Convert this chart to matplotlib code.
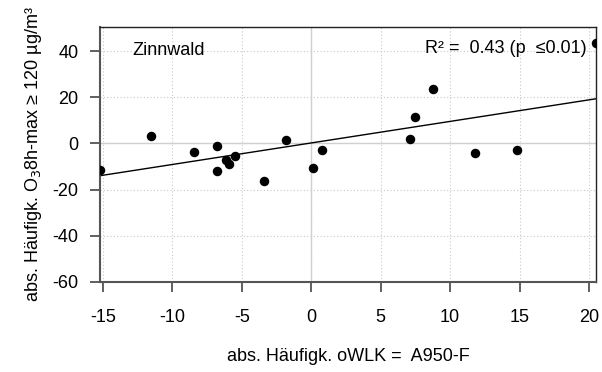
import matplotlib
matplotlib.use("Agg")
import matplotlib.pyplot as plt

plt.rcParams["font.family"] = ["Liberation Sans", "DejaVu Sans"]
plt.rcParams["axes.unicode_minus"] = False

# values
owlk_a950f = [-15.2, -11.5, -8.4, -6.8, -6.8, -6.1, -5.9, -5.5, -3.4, -1.8,
              0.1, 0.8, 7.1, 7.5, 8.8, 11.8, 14.8, 20.5]
o3_exceed = [-11.4, 3.0, -3.8, -1.2, -12.0, -7.3, -8.8, -5.3, -16.1, 1.6,
             -10.5, -3.0, 2.0, 11.4, 23.6, -4.0, -3.0, 43.3]
fit_slope = 0.933
fit_intercept = 0.2
x_ticks = [-15, -10, -5, 0, 5, 10, 15, 20]
y_ticks = [-60, -40, -20, 0, 20, 40]
station = "Zinnwald"
r2_text = "R² =  0.43 (p  ≤0.01)"

fs = 13

fig = plt.figure(figsize=(6.02, 3.72), dpi=100)
ax = fig.add_axes([100 / 602, 1 - 282 / 372, 496 / 602, 255 / 372])

xlim = (-15.2, 20.5)
ylim = (-60, 50.4)

# grid: dotted at ticks, solid at zero
for xv in x_ticks:
    ax.axvline(xv, color="#c8c8c8", lw=0.8, ls=(0, (1, 2)), zorder=0)
for yv in y_ticks:
    ax.axhline(yv, color="#c8c8c8", lw=0.8, ls=(0, (1, 2)), zorder=0)
ax.axvline(0, color="#d0d0d0", lw=1.0, zorder=0)
ax.axhline(0, color="#d0d0d0", lw=1.0, zorder=0)

ax.scatter(owlk_a950f, o3_exceed, s=34, color="black", zorder=3)
ax.plot(xlim, [fit_intercept + fit_slope * v for v in xlim], color="black",
        lw=1.0, zorder=2)

ax.set_xlim(xlim)
ax.set_ylim(ylim)
ax.set_xticks(x_ticks)
ax.set_yticks(y_ticks)
ax.tick_params(axis="both", labelsize=fs, length=7.5, width=1.2,
               color="#444444", direction="out")
ax.tick_params(axis="x", pad=12)
ax.tick_params(axis="y", pad=8)

for side in ["top", "right"]:
    ax.spines[side].set_color("#222222")
    ax.spines[side].set_linewidth(1.0)
for side in ["left", "bottom"]:
    ax.spines[side].set_color("#555555")
    ax.spines[side].set_linewidth(1.5)

ax.text(0.066, 0.906, station, transform=ax.transAxes, fontsize=fs,
        ha="left", va="center")
ax.text(0.981, 0.914, r2_text, transform=ax.transAxes, fontsize=fs,
        ha="right", va="center")

ax.set_xlabel("abs. Häufigk. oWLK =  A950-F", fontsize=fs, labelpad=16)
ax.set_ylabel("abs. Häufigk. O$_3$8h-max ≥ 120 µg/m³", fontsize=fs,
              labelpad=6)

fig.savefig("out.png", dpi=100)
